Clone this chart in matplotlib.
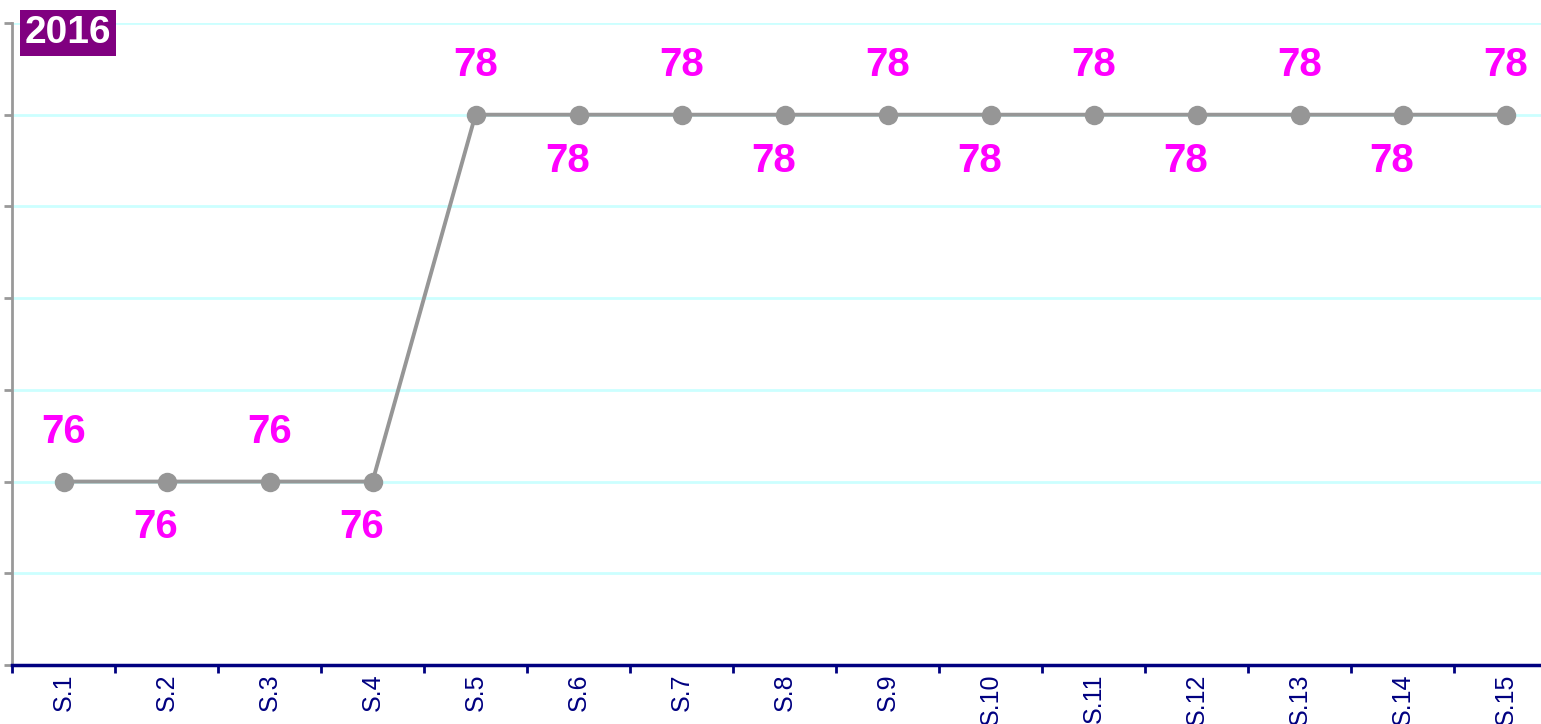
import matplotlib.pyplot as plt
import numpy as np

plt.rcParams['font.family'] = ['Liberation Sans', 'DejaVu Sans']

# data
categories = ['S.1', 'S.2', 'S.3', 'S.4', 'S.5', 'S.6', 'S.7', 'S.8',
              'S.9', 'S.10', 'S.11', 'S.12', 'S.13', 'S.14', 'S.15']
values = [76, 76, 76, 76, 78, 78, 78, 78, 78, 78, 78, 78, 78, 78, 78]
year_label = '2016'

fig = plt.figure(figsize=(15.41, 7.24), dpi=100)
ax = fig.add_axes([12 / 1541, 59 / 724, 1545 / 1541, 642 / 724])

x = np.arange(len(categories))
ax.plot(x, values, color='#969696', lw=2.8, marker='o', ms=14,
        markeredgewidth=0, zorder=3)

# value labels alternate above / below the points
for i, v in enumerate(values):
    if i % 2 == 0:
        ax.annotate(str(v), (i, v), xytext=(0, 36), textcoords='offset points',
                    ha='center', va='center', color='#FF00FF',
                    fontsize=29, fontweight='bold')
    else:
        ax.annotate(str(v), (i, v), xytext=(-8, -33), textcoords='offset points',
                    ha='center', va='center', color='#FF00FF',
                    fontsize=29, fontweight='bold')

ax.set_xlim(-0.5, len(categories) - 0.5)
ax.set_ylim(75, 78.5)
ax.set_yticks(np.arange(75, 78.51, 0.5))
ax.set_yticklabels([])
ax.grid(axis='y', color='#CCFFFF', lw=2)
ax.set_axisbelow(True)

ax.set_xticks(x)
ax.set_xticklabels(categories, rotation=90, va='top', ha='center',
                   color='#000080', fontsize=18)
ax.set_xticks(np.arange(-0.5, len(categories), 1), minor=True)
ax.tick_params(axis='x', which='major', length=0, pad=6)
ax.tick_params(axis='x', which='minor', length=6, width=2, color='#000080',
               direction='out')
ax.tick_params(axis='y', length=6, width=2, color='#999999', direction='out')

for s in ['top', 'right']:
    ax.spines[s].set_visible(False)
ax.spines['left'].set_color('#999999')
ax.spines['left'].set_linewidth(2)
ax.spines['bottom'].set_color('#000080')
ax.spines['bottom'].set_linewidth(2.5)

fig.text(68 / 1541, 1 - 33 / 724, year_label, ha='center', va='center',
         color='white', fontsize=28, fontweight='bold',
         bbox=dict(boxstyle='square,pad=0.12', facecolor='#800080',
                   edgecolor='none'))

fig.savefig('out.png', dpi=100)
